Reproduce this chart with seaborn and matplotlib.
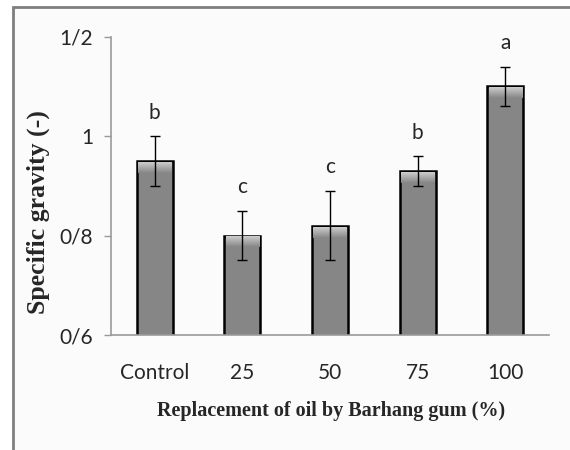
import numpy as np
import pandas as pd
import matplotlib
matplotlib.use("Agg")
import matplotlib.pyplot as plt
from matplotlib.patches import Rectangle
from matplotlib.colors import LinearSegmentedColormap
import seaborn as sns

# data
categories = ["Control", "25", "50", "75", "100"]
gravity = [0.95, 0.80, 0.82, 0.93, 1.10]
gravity_err = [0.05, 0.05, 0.07, 0.03, 0.04]
letters = ["b", "c", "c", "b", "a"]
yticks = [0.6, 0.8, 1.0, 1.2]
ytick_labels = ["0/6", "0/8", "1", "1/2"]

sns.set_style("white")
narrow = ["Lato", "DejaVu Sans"]
serif = ["Liberation Serif", "DejaVu Serif"]
bar_color = "#868686"

df = pd.DataFrame({"group": categories, "value": gravity})

fig = plt.figure(figsize=(5.7, 4.5), dpi=100)
fig.patch.set_facecolor("white")
# outer frame (only left/top edges visible in the crop)
fig.patches.append(Rectangle((13 / 570, -0.1), 1.2, 1 - 7 / 450 + 0.1,
                             transform=fig.transFigure, facecolor="#fbfbfb",
                             edgecolor="#7f7f7f", linewidth=2, zorder=-10))

ax = fig.add_axes([111 / 570, 1 - 335 / 450, 438 / 570, 298.3 / 450])
ax.set_facecolor("none")
ax.set_zorder(5)

sns.barplot(data=df, x="group", y="value", ax=ax, color=bar_color,
            saturation=1, width=0.41, edgecolor="black", linewidth=1.8,
            errorbar=None)

# glossy band at the top of each bar, like the office-style fill
gloss = LinearSegmentedColormap.from_list("gloss", [bar_color, "#cdcdcd"])
grad = np.linspace(0, 1, 50).reshape(-1, 1)
for p in list(ax.patches):
    top = p.get_y() + p.get_height()
    x0 = p.get_x() + 0.015
    x1 = p.get_x() + p.get_width() - 0.015
    im = ax.imshow(grad, cmap=gloss, aspect="auto", origin="lower",
                   extent=(x0, x1, top - 0.024, top - 0.003),
                   zorder=p.get_zorder() + 0.1, interpolation="bilinear")

centers = [p.get_x() + p.get_width() / 2 for p in ax.patches]
ax.errorbar(centers, gravity, yerr=gravity_err, fmt="none", ecolor="black",
            elinewidth=1.0, capsize=3.6, capthick=1.0, zorder=4)

for x, v, e, lab in zip(centers, gravity, gravity_err, letters):
    ax.text(x, v + e + 0.047, lab, ha="center", va="center",
            fontsize=15, family=narrow)

ax.set_ylim(0.6, 1.2)
ax.set_xlim(-0.5, 4.5)
ax.set_yticks(yticks)
ax.set_yticklabels(ytick_labels, family=narrow, fontsize=15)
ax.set_xticks(range(len(categories)))
ax.set_xticklabels(categories, family=narrow, fontsize=15)

ax.tick_params(axis="y", which="major", left=True, length=5, width=1,
               color="#9a9a9a", pad=8)
ax.tick_params(axis="x", length=0, pad=20)

for side in ["top", "right"]:
    ax.spines[side].set_visible(False)
for side in ["left", "bottom"]:
    ax.spines[side].set_color("#9a9a9a")
    ax.spines[side].set_linewidth(1.2)

ax.set_xlabel("Replacement of oil by Barhang gum (%)", family=serif,
              fontweight="bold", fontsize=14.5)
ax.set_ylabel("Specific gravity (-)", family=serif, fontweight="bold",
              fontsize=18.5)
ax.xaxis.set_label_coords(0.502, -0.222)
ax.yaxis.set_label_coords(-0.139, 0.413)

fig.savefig("out.png", dpi=100)
